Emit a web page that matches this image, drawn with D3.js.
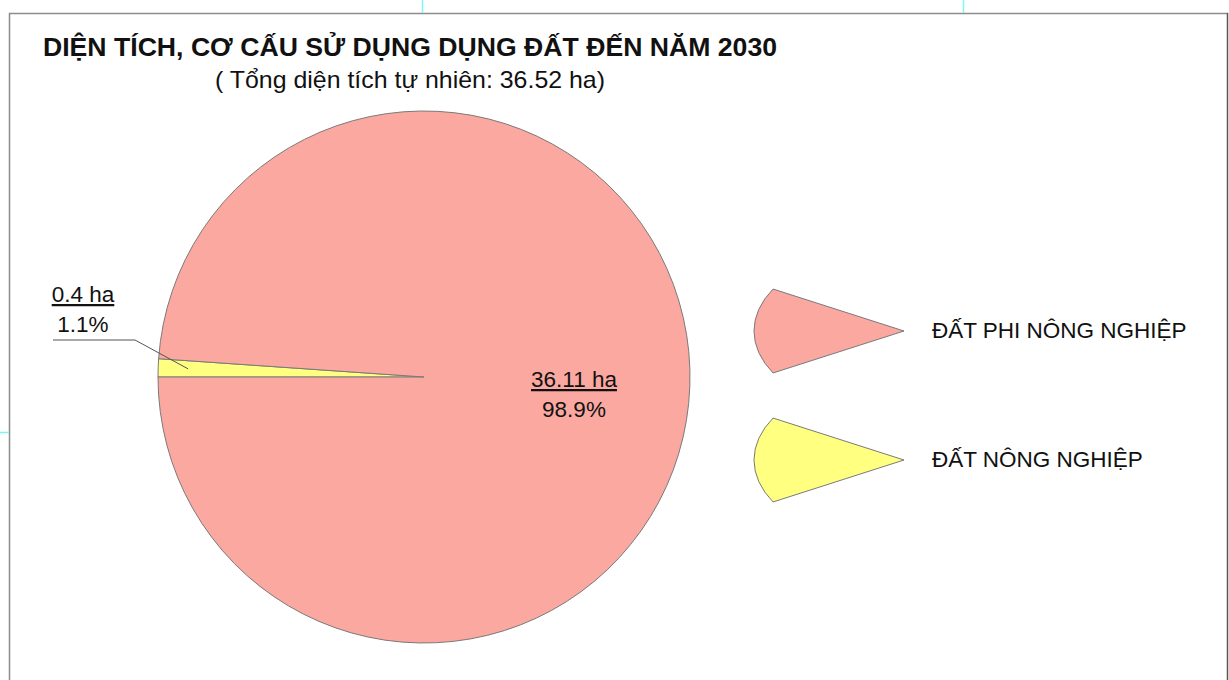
<!DOCTYPE html>
<html>
<head>
<meta charset="utf-8">
<script src="https://cdn.jsdelivr.net/npm/d3@7"></script>
<style>
  body { margin: 0; background: #fff; }
  svg text { font-family: "Liberation Sans", Arial, sans-serif; fill: #111; }
</style>
</head>
<body>
<svg id="chart" width="1229" height="680"></svg>
<script>
// data
var categories = ["ĐẤT PHI NÔNG NGHIỆP", "ĐẤT NÔNG NGHIỆP"];
var areas = [36.11, 0.4];
var percents = ["98.9%", "1.1%"];
var colors = ["#faa8a0", "#ffff80"];
var titleText = "DIỆN TÍCH, CƠ CẤU SỬ DỤNG DỤNG ĐẤT ĐẾN NĂM 2030";
var subtitleText = "( Tổng diện tích tự nhiên: 36.52 ha)";

var svg = d3.select("#chart");

// frame + small cyan guide marks
svg.append("path").attr("d", "M9.5,680 V13.5 H1227.5 V680")
  .attr("fill", "none").attr("stroke", "#8c8c8c").attr("stroke-width", 1.5);
svg.append("line").attr("x1", 1227.5).attr("x2", 1227.5).attr("y1", 13).attr("y2", 680)
  .attr("stroke", "#555").attr("stroke-width", 1.2);
[[422.5, 0, 422.5, 13], [963.5, 0, 963.5, 13], [0, 432.5, 9, 432.5]].forEach(function(l) {
  svg.append("line").attr("x1", l[0]).attr("y1", l[1]).attr("x2", l[2]).attr("y2", l[3])
    .attr("stroke", "#7ff7f7").attr("stroke-width", 1.5);
});

svg.append("text").attr("x", 43).attr("y", 56).attr("font-size", 26).attr("font-weight", "bold")
  .attr("textLength", 734).attr("lengthAdjust", "spacingAndGlyphs")
  .text(titleText);
svg.append("text").attr("x", 215).attr("y", 88).attr("font-size", 24)
  .attr("textLength", 390).attr("lengthAdjust", "spacingAndGlyphs")
  .text(subtitleText);

// pie
var cx = 424, cy = 377, r = 266;
var rows = categories.map(function(c, i) {
  return { name: c, value: areas[i], pct: percents[i], color: colors[i] };
});

// small slice first so it starts at 9 o'clock and runs upward
var pie = d3.pie().sort(null).value(function(d) { return d.value; })
  .startAngle(1.5 * Math.PI).endAngle(3.5 * Math.PI);
var arcs = pie(rows.slice().reverse());
var arc = d3.arc().innerRadius(0).outerRadius(r);

var g = svg.append("g").attr("transform", `translate(${cx},${cy})`);
g.selectAll("path.slice").data(arcs).enter().append("path")
  .attr("class", "slice")
  .attr("d", arc)
  .attr("fill", function(d) { return d.data.color; })
  .attr("stroke", "#7a7a7a").attr("stroke-width", 1);

// labels
var fs = 22.5;
arcs.forEach(function(d) {
  var big = d.data.value > 1;
  var lx, ty;
  if (big) {
    lx = 574; ty = 387;
  } else {
    lx = 83; ty = 302;
    var mid = (d.startAngle + d.endAngle) / 2;
    var px = cx + Math.sin(mid) * (r - 30), py = cy - Math.cos(mid) * (r - 30);
    svg.append("polyline")
      .attr("points", [[px, py], [135, 340], [53, 340]].map(function(p) { return p.join(","); }).join(" "))
      .attr("fill", "none").attr("stroke", "#555").attr("stroke-width", 1);
  }
  svg.append("text").attr("x", lx).attr("y", ty).attr("font-size", fs)
    .attr("text-anchor", "middle").attr("text-decoration", "underline")
    .text(d.data.value + " ha");
  svg.append("text").attr("x", lx).attr("y", ty + 30).attr("font-size", fs)
    .attr("text-anchor", "middle").text(d.data.pct);
});

// legend: squashed wedge markers
var legArc = d3.arc().innerRadius(0).outerRadius(1)
  .startAngle(1.5 * Math.PI - 0.51).endAngle(1.5 * Math.PI + 0.51);
var leg = svg.selectAll("g.leg").data(rows).enter().append("g")
  .attr("class", "leg")
  .attr("transform", function(d, i) { return `translate(0,${i * 129})`; });
leg.append("path")
  .attr("d", legArc())
  .attr("transform", "translate(904,331) scale(150,86)")
  .attr("fill", function(d) { return d.color; })
  .attr("stroke", "#7a7a7a").attr("stroke-width", 1)
  .attr("stroke-linejoin", "round")
  .attr("vector-effect", "non-scaling-stroke");
leg.append("text").attr("x", 932).attr("y", 338).attr("font-size", fs)
  .text(function(d) { return d.name; });
</script>
</body>
</html>
